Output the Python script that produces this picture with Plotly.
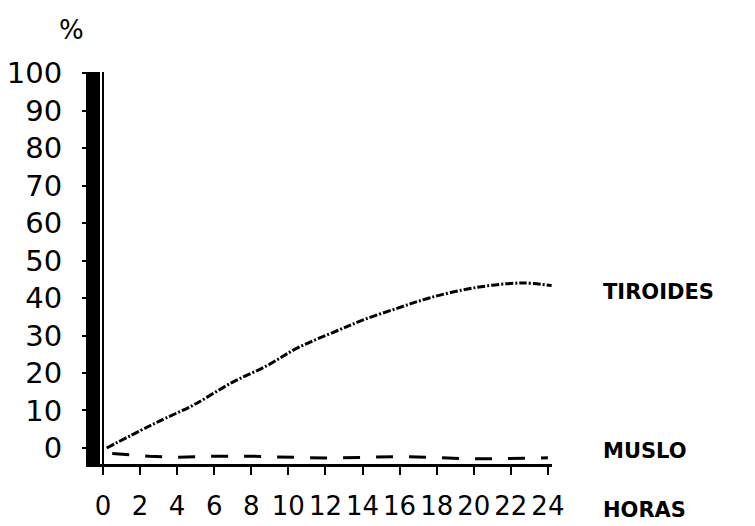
import plotly.graph_objects as go

# Data
tiroides_h = [0.2, 2.4, 3.4, 4.9, 6.9, 8.9, 10.5, 12.6, 14.0, 15.9, 17.6, 20.0, 22.6, 24.2]
tiroides_pct = [0.0, 5.6, 8.0, 11.5, 17.3, 22.1, 26.7, 31.2, 34.1, 37.3, 40.0, 42.7, 44.0, 43.3]

muslo_h = [0.5, 2.5, 4, 6, 8, 10, 12, 14, 16, 18, 19.5, 21, 22.5, 24]
muslo_pct = [-1.5, -2.2, -2.5, -2.2, -2.2, -2.5, -2.7, -2.5, -2.3, -2.5, -2.9, -2.9, -2.8, -2.6]

x_ticks = list(range(0, 25, 2))
y_ticks = list(range(0, 101, 10))

FONT = "DejaVu Sans"

fig = go.Figure()
fig.add_trace(go.Scatter(x=tiroides_h, y=tiroides_pct, mode="lines", name="TIROIDES",
                         line=dict(color="black", width=3, dash="8px,2px,2px,2px", shape="spline")))
fig.add_trace(go.Scatter(x=muslo_h, y=muslo_pct, mode="lines", name="MUSLO",
                         line=dict(color="black", width=3, dash="17px,16px")))

fig.update_layout(
    width=755, height=526,
    margin=dict(l=100, r=203, t=72, b=62, autoexpand=False),
    paper_bgcolor="white", plot_bgcolor="white",
    showlegend=False,
    font=dict(family=FONT, color="black"),
    xaxis=dict(range=[-0.16, 24.22], tickvals=x_ticks, ticktext=[str(v) for v in x_ticks],
               automargin=False,
               showgrid=False, zeroline=True, zerolinecolor="black", zerolinewidth=2,
               showline=True, linecolor="black", linewidth=3,
               ticks="outside", ticklen=8, tickwidth=2, tickcolor="black",
               ticklabelstandoff=9,
               tickfont=dict(size=26, family=FONT, color="black")),
    yaxis=dict(range=[-4.27, 100.27], tickvals=y_ticks, ticktext=[str(v) for v in y_ticks],
               automargin=False,
               showgrid=False, zeroline=False,
               showline=True, linecolor="black", linewidth=14,
               ticks="outside", ticklen=4, tickwidth=1.5, tickcolor="black",
               ticklabelstandoff=14,
               tickfont=dict(size=29, family=FONT, color="black")),
)

ann_font = dict(family=FONT, size=21, color="black")
fig.add_annotation(text="<b>TIROIDES</b>", xref="paper", yref="paper", x=1.108, y=0.439,
                   xanchor="left", yanchor="middle", showarrow=False, font=ann_font)
fig.add_annotation(text="<b>MUSLO</b>", xref="paper", yref="paper", x=1.108, y=0.033,
                   xanchor="left", yanchor="middle", showarrow=False, font=ann_font)
fig.add_annotation(text="<b>HORAS</b>", xref="paper", yref="paper", x=1.108, y=-0.117,
                   xanchor="left", yanchor="middle", showarrow=False, font=ann_font)
fig.add_annotation(text="%", xref="paper", yref="paper", x=-0.062, y=1.107,
                   xanchor="center", yanchor="middle", showarrow=False,
                   font=dict(family=FONT, size=26, color="black"))

fig.write_html("out.html")
